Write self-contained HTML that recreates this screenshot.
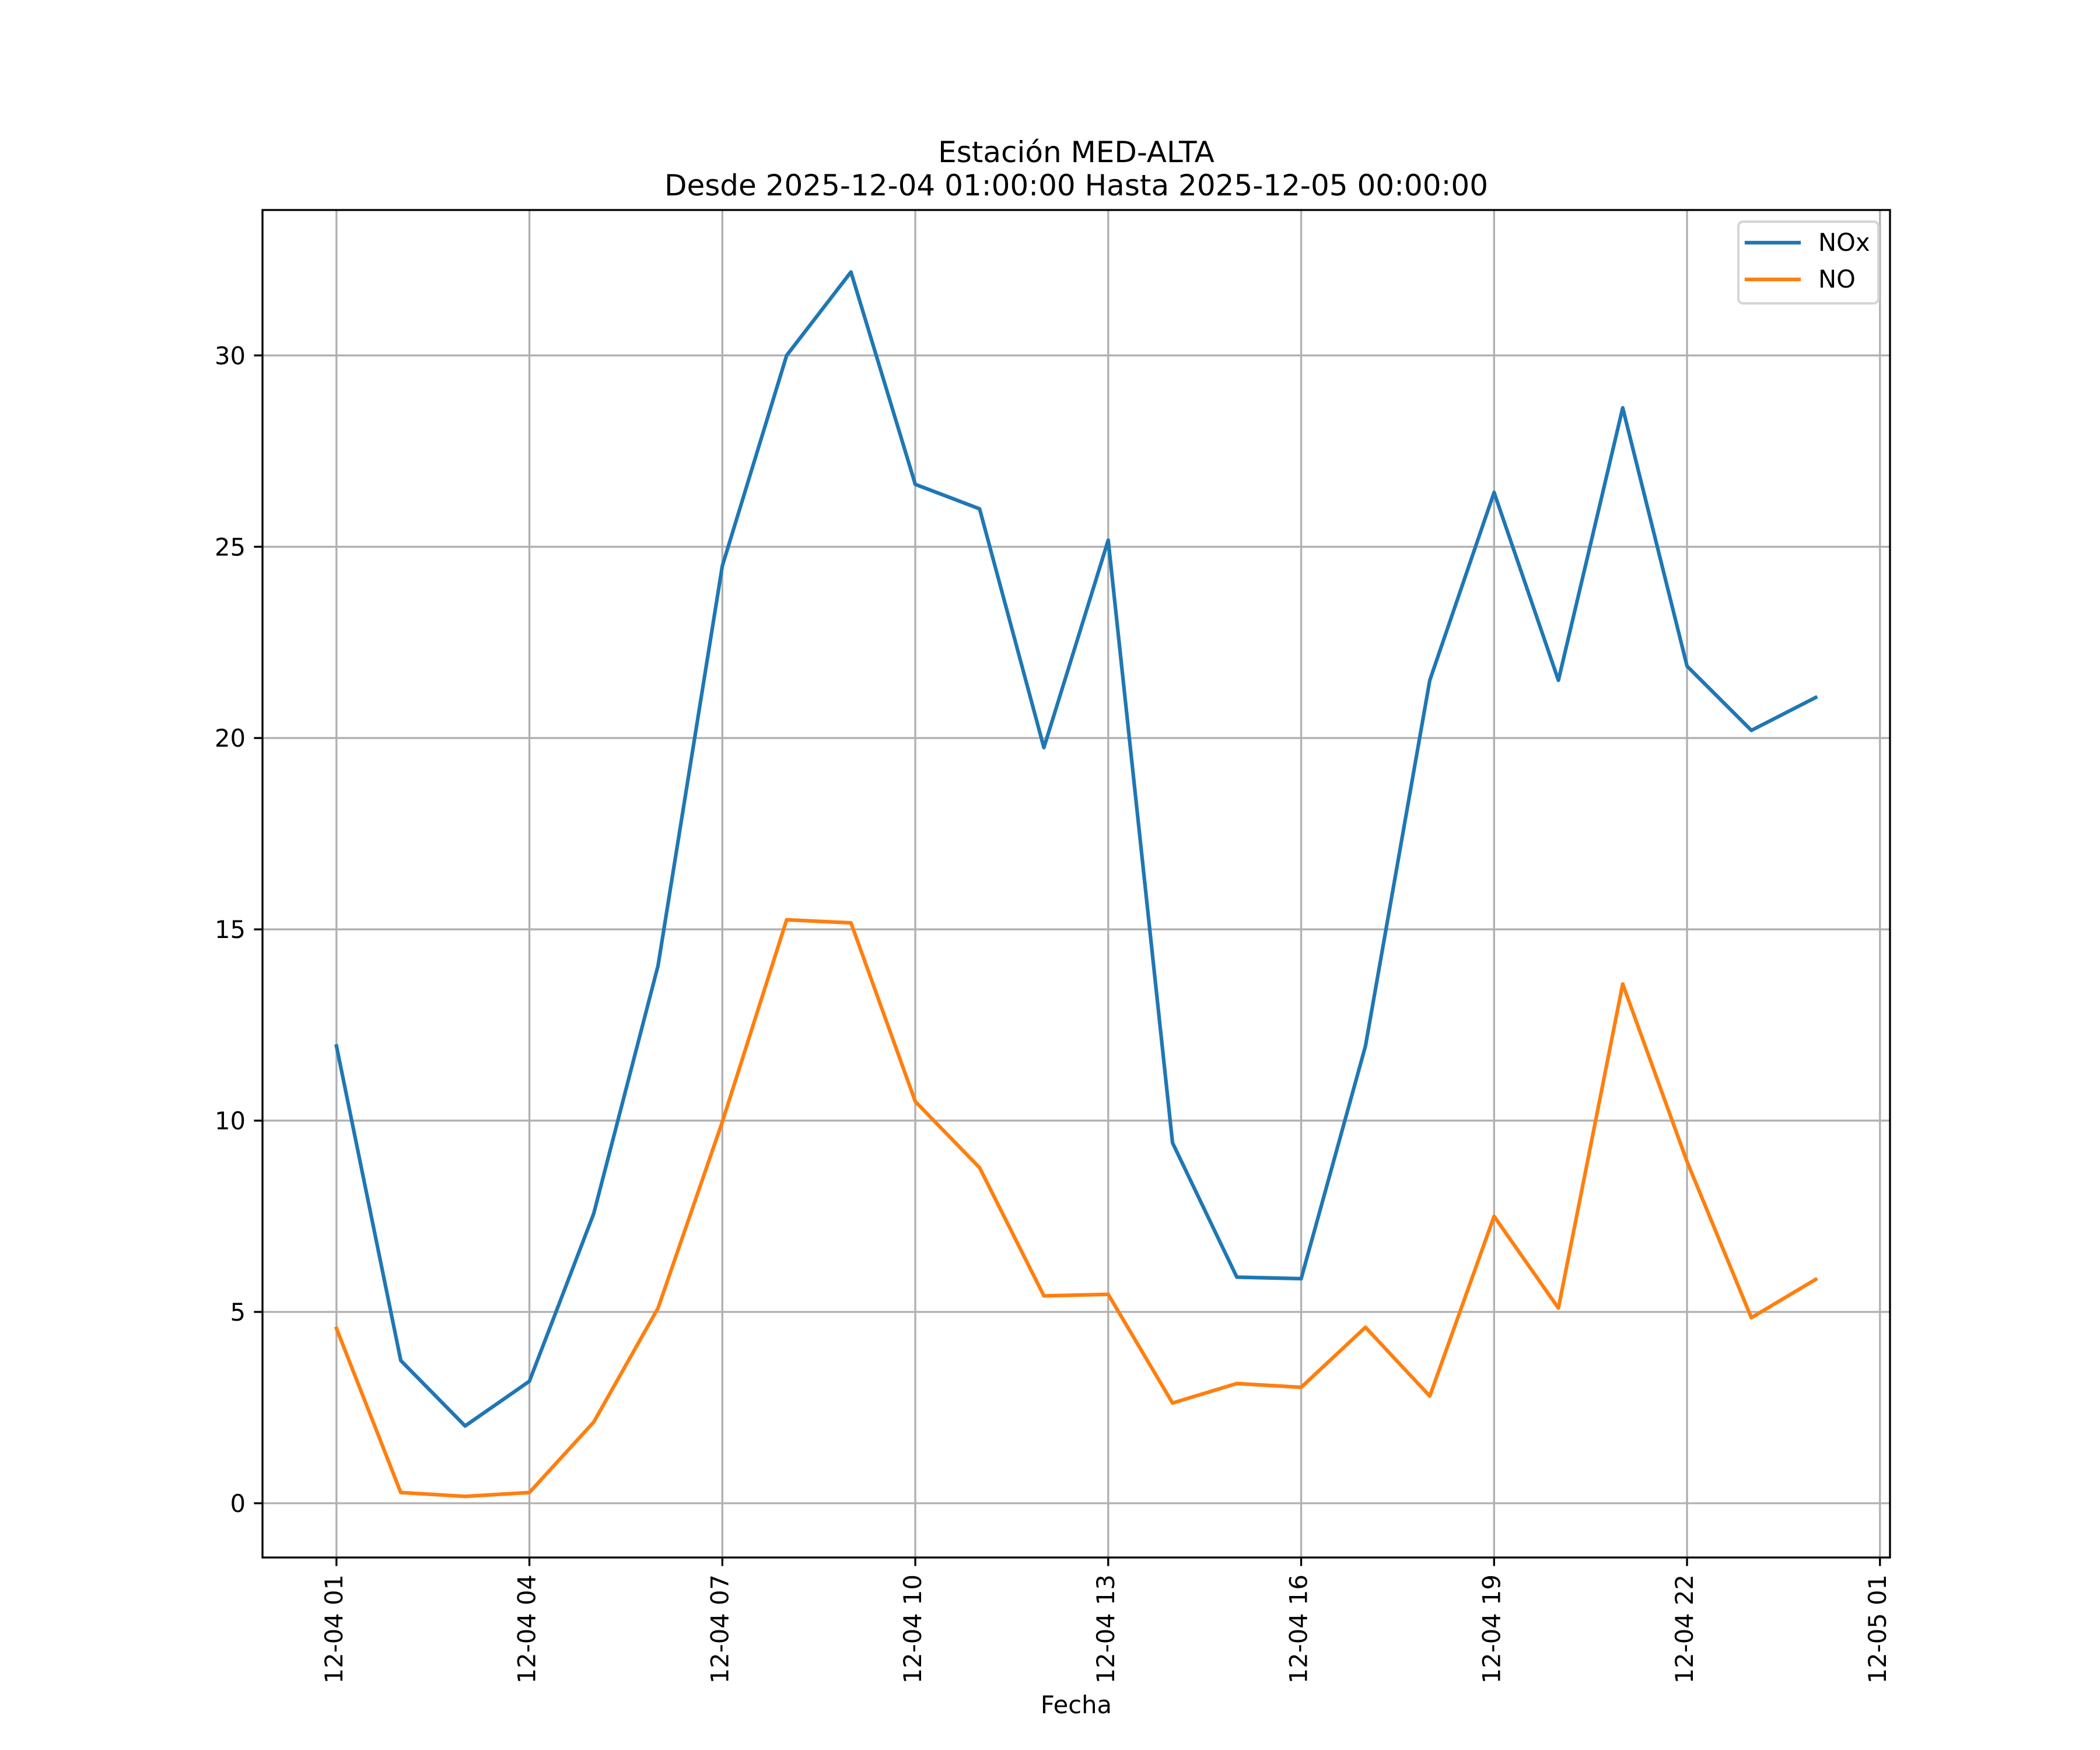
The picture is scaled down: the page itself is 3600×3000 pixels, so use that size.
<!DOCTYPE html>
<html><head><meta charset="utf-8"><style>
html,body{margin:0;padding:0;background:#fff;}
svg{display:block;}
text{font-family:"DejaVu Sans","Liberation Sans",sans-serif;fill:#000;}
</style></head><body>
<svg width="3600" height="3000" viewBox="0 0 3600 3000" xmlns="http://www.w3.org/2000/svg">
<rect x="0" y="0" width="3600" height="3000" fill="#fff"/>
<defs><clipPath id="ax"><rect x="450" y="360" width="2790" height="2310"/></clipPath></defs>
<!-- grid -->
<g stroke="#b0b0b0" stroke-width="3.33" clip-path="url(#ax)">
<line x1="576.8" y1="360" x2="576.8" y2="2670"/>
<line x1="907.55" y1="360" x2="907.55" y2="2670"/>
<line x1="1238.3" y1="360" x2="1238.3" y2="2670"/>
<line x1="1569.05" y1="360" x2="1569.05" y2="2670"/>
<line x1="1899.8" y1="360" x2="1899.8" y2="2670"/>
<line x1="2230.55" y1="360" x2="2230.55" y2="2670"/>
<line x1="2561.3" y1="360" x2="2561.3" y2="2670"/>
<line x1="2892.05" y1="360" x2="2892.05" y2="2670"/>
<line x1="3222.8" y1="360" x2="3222.8" y2="2670"/>
<line x1="450" y1="2577" x2="3240" y2="2577"/>
<line x1="450" y1="2249" x2="3240" y2="2249"/>
<line x1="450" y1="1921.1" x2="3240" y2="1921.1"/>
<line x1="450" y1="1593.2" x2="3240" y2="1593.2"/>
<line x1="450" y1="1265.2" x2="3240" y2="1265.2"/>
<line x1="450" y1="937.3" x2="3240" y2="937.3"/>
<line x1="450" y1="609.3" x2="3240" y2="609.3"/>
</g>
<!-- series -->
<g fill="none" stroke-width="6.25" stroke-linejoin="round" stroke-linecap="square" clip-path="url(#ax)">
<polyline stroke="#1f77b4" points="576.8,1793.2 687.05,2332.3 797.3,2444.5 907.55,2367.8 1017.8,2080.5 1128.05,1655.5 1238.3,970.0 1348.55,609.3 1458.8,466.3 1569.05,830.3 1679.3,872.3 1789.55,1281.6 1899.8,926.1 2010.05,1959.1 2120.3,2189.4 2230.55,2192.0 2340.8,1793.2 2451.05,1166.2 2561.3,844.1 2671.55,1166.2 2781.8,699.2 2892.05,1141.9 3002.3,1252.1 3112.55,1195.7"/>
<polyline stroke="#ff7f0e" points="576.8,2277.3 687.05,2558.6 797.3,2565.2 907.55,2558.6 1017.8,2437.9 1128.05,2242.5 1238.3,1923.1 1348.55,1576.8 1458.8,1582.0 1569.05,1888.3 1679.3,2001.8 1789.55,2221.5 1899.8,2218.9 2010.05,2405.2 2120.3,2371.7 2230.55,2378.3 2340.8,2275.3 2451.05,2393.3 2561.3,2085.1 2671.55,2242.5 2781.8,1686.9 2892.05,1991.3 3002.3,2258.9 3112.55,2193.3"/>
</g>
<!-- spines -->
<rect x="450" y="360" width="2790" height="2310" fill="none" stroke="#000" stroke-width="3.33" stroke-linecap="square"/>
<!-- ticks -->
<g stroke="#000" stroke-width="3.33">
<line x1="435.4" y1="2577" x2="450" y2="2577"/>
<line x1="435.4" y1="2249" x2="450" y2="2249"/>
<line x1="435.4" y1="1921.1" x2="450" y2="1921.1"/>
<line x1="435.4" y1="1593.2" x2="450" y2="1593.2"/>
<line x1="435.4" y1="1265.2" x2="450" y2="1265.2"/>
<line x1="435.4" y1="937.3" x2="450" y2="937.3"/>
<line x1="435.4" y1="609.3" x2="450" y2="609.3"/>
<line x1="576.8" y1="2670" x2="576.8" y2="2684.6"/>
<line x1="907.55" y1="2670" x2="907.55" y2="2684.6"/>
<line x1="1238.3" y1="2670" x2="1238.3" y2="2684.6"/>
<line x1="1569.05" y1="2670" x2="1569.05" y2="2684.6"/>
<line x1="1899.8" y1="2670" x2="1899.8" y2="2684.6"/>
<line x1="2230.55" y1="2670" x2="2230.55" y2="2684.6"/>
<line x1="2561.3" y1="2670" x2="2561.3" y2="2684.6"/>
<line x1="2892.05" y1="2670" x2="2892.05" y2="2684.6"/>
<line x1="3222.8" y1="2670" x2="3222.8" y2="2684.6"/>
</g>
<!-- y tick labels -->
<g font-size="41.67" text-anchor="end">
<text x="421" y="2592">0</text>
<text x="421" y="2264">5</text>
<text x="421" y="1936.1">10</text>
<text x="421" y="1608.2">15</text>
<text x="421" y="1280.2">20</text>
<text x="421" y="952.3">25</text>
<text x="421" y="624.3">30</text>
</g>
<!-- x tick labels -->
<g font-size="41.67" text-anchor="end">
<text transform="translate(586.8,2699) rotate(-90)">12-04 01</text>
<text transform="translate(917.55,2699) rotate(-90)">12-04 04</text>
<text transform="translate(1248.3,2699) rotate(-90)">12-04 07</text>
<text transform="translate(1579.05,2699) rotate(-90)">12-04 10</text>
<text transform="translate(1909.8,2699) rotate(-90)">12-04 13</text>
<text transform="translate(2240.55,2699) rotate(-90)">12-04 16</text>
<text transform="translate(2571.3,2699) rotate(-90)">12-04 19</text>
<text transform="translate(2902.05,2699) rotate(-90)">12-04 22</text>
<text transform="translate(3232.8,2699) rotate(-90)">12-05 01</text>
</g>
<!-- axis label -->
<text x="1845" y="2937" font-size="41.67" text-anchor="middle">Fecha</text>
<!-- title -->
<text x="1845" y="278" font-size="50" text-anchor="middle">Estación MED-ALTA</text>
<text x="1845" y="335" font-size="50" text-anchor="middle">Desde 2025-12-04 01:00:00 Hasta 2025-12-05 00:00:00</text>
<!-- legend -->
<rect x="2980" y="380" width="240" height="140" rx="8" ry="8" fill="#fff" fill-opacity="0.8" stroke="#d6d6d6" stroke-width="4.17"/>
<line x1="2994" y1="416" x2="3084" y2="416" stroke="#1f77b4" stroke-width="6.25" stroke-linecap="square"/>
<line x1="2994" y1="479" x2="3084" y2="479" stroke="#ff7f0e" stroke-width="6.25" stroke-linecap="square"/>
<text x="3117" y="430" font-size="41.67">NOx</text>
<text x="3117" y="493" font-size="41.67">NO</text>
</svg>
</body></html>
